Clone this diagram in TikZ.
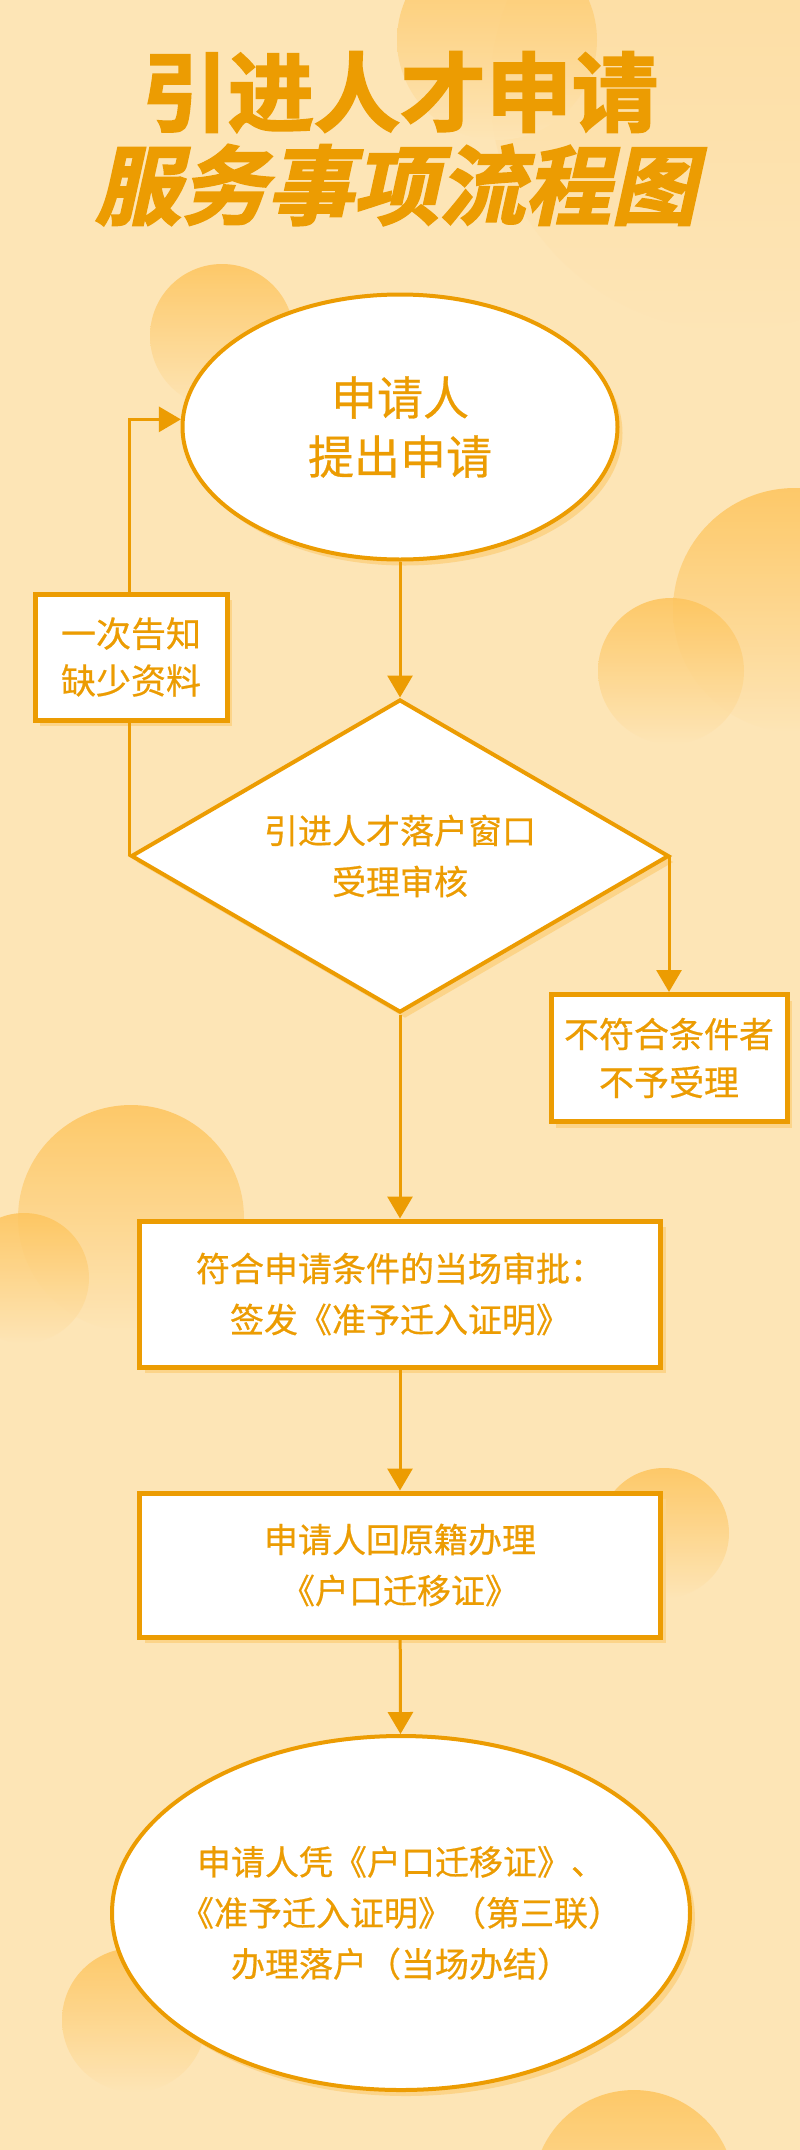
\documentclass[tikz,border=0pt]{standalone}
\usepackage{fontspec}
\usetikzlibrary{arrows.meta,shapes.geometric,shadows}
\newfontfamily\cjk{Noto Sans CJK SC}[FakeBold=0.6]
\newfontfamily\cjkhead{Noto Sans CJK SC Bold}[FakeBold=2.4]
\newfontfamily\cjkslant{Noto Sans CJK SC Bold}[FakeBold=2.4,FakeSlant=0.22]
\definecolor{bgpeach}{HTML}{FDE5B6}
\definecolor{flowline}{HTML}{EC9C02}
\definecolor{flowshade}{HTML}{FCD489}
\definecolor{bubble}{HTML}{FDC45C}
\begin{document}
\begin{tikzpicture}[x = 1pt, y = -1pt,
        every node/.style = {text = flowline, align = center, inner sep = 0pt, font = \cjk\fontsize{34}{51}\selectfont},
        card/.style = {rectangle, draw = flowline, line width = 5pt, fill = white,
            drop shadow = {shadow xshift = 5pt, shadow yshift = -6pt, fill = flowshade, opacity = 1}},
        oval/.style = {ellipse, draw = flowline, line width = 4pt, fill = white,
            drop shadow = {shadow xshift = 5pt, shadow yshift = -6pt, fill = flowshade, opacity = 1}},
        gate/.style = {diamond, aspect = 1.72, draw = flowline, line width = 4pt, fill = white,
            drop shadow = {shadow xshift = 5pt, shadow yshift = -6pt, fill = flowshade, opacity = 1}},
        flow/.style = {draw = flowline, line width = 3pt, -{Triangle[width = 25pt, length = 22pt]}}]
        \useasboundingbox (0, 0) rectangle (800, 2150);
        \fill[bgpeach] (0, 0) rectangle (800, 2150);
        \shade[top color = bubble, bottom color = bgpeach, opacity = 0.25] (730, 90) circle[radius = 240];
        \foreach \bx/\by/\br in {497/40/100, 222/336/72, 795/610/122, 671/671/73, 131/1218/113,
                24/1278/65, 664/1533/65, 134/2020/72, 634/2191/101}{
            \shade[top color = bubble, bottom color = bgpeach, opacity = 0.85] (\bx, \by) circle[radius = \br];
        }
        \node[font = \cjkhead\fontsize{86}{86}\selectfont] (head1) at (400, 92) {引进人才申请};
        \node[font = \cjkslant\fontsize{86}{86}\selectfont] (head2) at (396, 185) {服务事项流程图};
        \node[oval, minimum width = 435pt, minimum height = 265pt, font = \cjk\fontsize{46}{59}\selectfont] (apply) at (400, 427) {申请人\\提出申请};
        \node[gate, minimum width = 538pt, minimum height = 313pt] (review) at (400, 856) {引进人才落户窗口\\受理审核};
        \node[card, minimum width = 192pt, minimum height = 126pt, font = \cjk\fontsize{35}{47}\selectfont] (notice) at (131, 657) {一次告知\\缺少资料};
        \node[card, minimum width = 236pt, minimum height = 127pt, font = \cjk\fontsize{35}{48}\selectfont] (reject) at (669, 1058) {不符合条件者\\不予受理};
        \node[card, minimum width = 521pt, minimum height = 146pt] (approve) at (400, 1294) {符合申请条件的当场审批：\\签发《准予迁入证明》};
        \node[card, minimum width = 521pt, minimum height = 144pt] (transfer) at (400, 1565) {申请人回原籍办理\\《户口迁移证》};
        \node[oval, minimum width = 578pt, minimum height = 354pt, inner xsep = -40pt] (settle) at (401, 1913) {申请人凭《户口迁移证》、\\《准予迁入证明》（第三联）\\办理落户（当场办结）};
        \draw[flow] (apply) -- (review);
        \draw[draw = flowline, line width = 3pt] (review.west) -- (review.west |- notice.south);
        \draw[flow] (review.west |- notice.north) |- (apply.178);
        \draw[flow] (review.east) -| (reject.north);
        \draw[flow] (review) -- (approve);
        \draw[flow] (approve) -- (transfer);
        \draw[flow] (transfer) -- (settle);
    \end{tikzpicture}
\end{document}
